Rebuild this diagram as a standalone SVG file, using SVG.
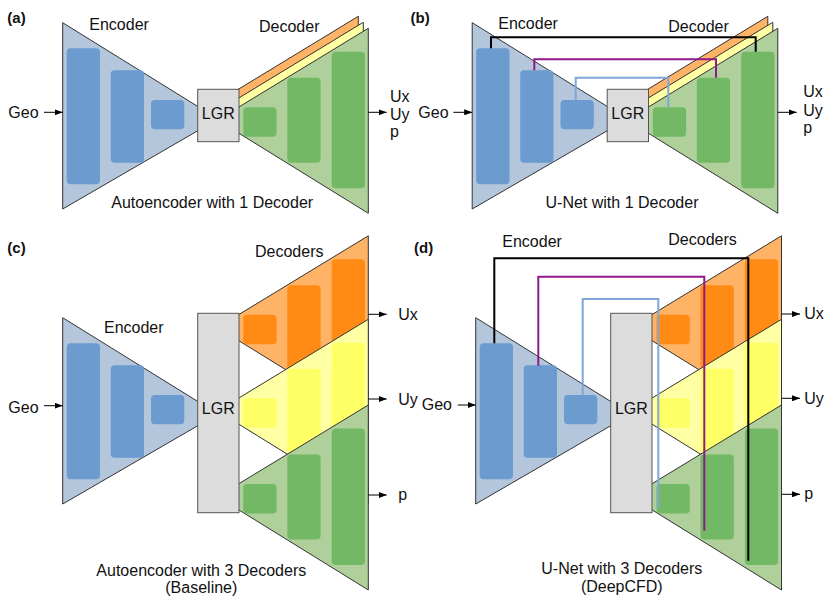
<svg xmlns="http://www.w3.org/2000/svg" width="830" height="598" viewBox="0 0 830 598">
<style>
text{font-family:"Liberation Sans",Arial,sans-serif;font-size:16px;fill:#111}
.lbl{font-weight:bold;font-size:15px}
.mid{text-anchor:middle}
.etri{fill:#b3c6dc;stroke:#333;stroke-width:1}
.eblk{fill:#6c9bcf}
.gtri{fill:#afd09a;stroke:#333;stroke-width:1}
.gblk{fill:#72b865}
.otri{fill:#ffb367;stroke:#333;stroke-width:1}
.oblk{fill:#ff8a14}
.ytri{fill:#ffffa3;stroke:#333;stroke-width:1}
.yblk{fill:#ffff66}
.lgr{fill:#dcdcdc;stroke:#555;stroke-width:1}
.arr{stroke:#000;stroke-width:1;fill:none;marker-end:url(#ah)}
.sk{fill:none;stroke-width:2}
.k{stroke:#000}
.pu{stroke:#8e1a8e}
.bl{stroke:#7ea8da}
</style>
<defs>
<marker id="ah" viewBox="0 0 8 6" refX="8" refY="3" markerWidth="8" markerHeight="6" markerUnits="userSpaceOnUse" orient="auto">
<path d="M0,0 L8,3 L0,6 Z" fill="#000"/>
</marker>
</defs>

<!-- Panel (a) -->
<g id="panel-a">
<text class="lbl" x="7.3" y="23.3">(a)</text>
<g id="a-encoder">
<polygon class="etri" points="62.7,22.7 62.7,209 218,119"/>
<rect class="eblk" x="66.7" y="48.3" width="33.3" height="136" rx="4"/>
<rect class="eblk" x="110.7" y="70.3" width="33.3" height="92.4" rx="4"/>
<rect class="eblk" x="151" y="100" width="33.3" height="29.3" rx="4"/>
</g>
<g id="a-decoder">
<polygon class="otri" transform="translate(-10,-12)" points="217.5,120 368.3,28.3 368.3,213.3"/>
<polygon class="ytri" transform="translate(-5,-6)" points="217.5,120 368.3,28.3 368.3,213.3"/>
<polygon class="gtri" points="217.5,120 368.3,28.3 368.3,213.3"/>
<rect class="gblk" x="243.3" y="107.3" width="33.3" height="29.4" rx="4"/>
<rect class="gblk" x="287.3" y="77.7" width="33.3" height="85" rx="4"/>
<rect class="gblk" x="331.7" y="51.7" width="33.3" height="136.6" rx="4"/>
</g>
<g id="a-lgr">
<rect class="lgr" x="197.7" y="89.3" width="41.3" height="52.4"/>
<text class="mid" x="218.3" y="119.3">LGR</text>
</g>
<text x="89.3" y="30">Encoder</text>
<text x="259" y="32.3">Decoder</text>
<text x="8.3" y="117.5">Geo</text>
<text x="390" y="101.7">Ux</text>
<text x="390" y="119.5">Uy</text>
<text x="390" y="137">p</text>
<text class="mid" x="212.2" y="208">Autoencoder with 1 Decoder</text>
</g>

<!-- Panel (b) -->
<g id="panel-b">
<text class="lbl" x="410.5" y="23.3">(b)</text>
<g id="b-encoder" transform="translate(409.5,0)">
<polygon class="etri" points="62.7,22.7 62.7,209 218,119"/>
<rect class="eblk" x="66.7" y="48.3" width="33.3" height="136" rx="4"/>
<rect class="eblk" x="110.7" y="70.3" width="33.3" height="92.4" rx="4"/>
<rect class="eblk" x="151" y="100" width="33.3" height="29.3" rx="4"/>
</g>
<g id="b-decoder" transform="translate(409.5,0)">
<polygon class="otri" transform="translate(-10,-12)" points="217.5,120 368.3,28.3 368.3,213.3"/>
<polygon class="ytri" transform="translate(-5,-6)" points="217.5,120 368.3,28.3 368.3,213.3"/>
<polygon class="gtri" points="217.5,120 368.3,28.3 368.3,213.3"/>
<rect class="gblk" x="243.3" y="107.3" width="33.3" height="29.4" rx="4"/>
<rect class="gblk" x="287.3" y="77.7" width="33.3" height="85" rx="4"/>
<rect class="gblk" x="331.7" y="51.7" width="33.3" height="136.6" rx="4"/>
</g>
<g id="b-lgr" transform="translate(409.5,0)">
<rect class="lgr" x="197.7" y="89.3" width="41.3" height="52.4"/>
<text class="mid" x="218.3" y="119.3">LGR</text>
</g>
<text x="498.3" y="29.3">Encoder</text>
<text x="668.3" y="31.7">Decoder</text>
<text x="418.3" y="117.5">Geo</text>
<text x="803.3" y="97.3">Ux</text>
<text x="803.3" y="115.5">Uy</text>
<text x="803.3" y="133">p</text>
<text class="mid" x="622" y="208.3">U-Net with 1 Decoder</text>
</g>

<!-- Panel (c) -->
<g id="panel-c">
<text class="lbl" x="7.3" y="253.3">(c)</text>
<g id="c-encoder" transform="translate(0,295)">
<polygon class="etri" points="62.7,22.7 62.7,209 218,119"/>
<rect class="eblk" x="66.7" y="48.3" width="33.3" height="136" rx="4"/>
<rect class="eblk" x="110.7" y="70.3" width="33.3" height="92.4" rx="4"/>
<rect class="eblk" x="151" y="100" width="33.3" height="29.3" rx="4"/>
</g>
<g id="c-decoder-ux" transform="translate(0,207.5)">
<polygon class="otri" points="217.5,120 368.3,28.3 368.3,213.3"/>
<rect class="oblk" x="243.3" y="107.3" width="33.3" height="29.4" rx="4"/>
<rect class="oblk" x="287.3" y="77.7" width="33.3" height="85" rx="4"/>
<rect class="oblk" x="331.7" y="51.7" width="33.3" height="136.6" rx="4"/>
</g>
<g id="c-decoder-uy" transform="translate(0,291)">
<polygon class="ytri" points="217.5,120 368.3,28.3 368.3,213.3"/>
<rect class="yblk" x="243.3" y="107.3" width="33.3" height="29.4" rx="4"/>
<rect class="yblk" x="287.3" y="77.7" width="33.3" height="85" rx="4"/>
<rect class="yblk" x="331.7" y="51.7" width="33.3" height="136.6" rx="4"/>
</g>
<g id="c-decoder-p" transform="translate(0,376.7)">
<polygon class="gtri" points="217.5,120 368.3,28.3 368.3,213.3"/>
<rect class="gblk" x="243.3" y="107.3" width="33.3" height="29.4" rx="4"/>
<rect class="gblk" x="287.3" y="77.7" width="33.3" height="85" rx="4"/>
<rect class="gblk" x="331.7" y="51.7" width="33.3" height="136.6" rx="4"/>
</g>
<g id="c-lgr">
<rect class="lgr" x="197.7" y="313.3" width="41.3" height="199.4"/>
<text class="mid" x="218.3" y="414.3">LGR</text>
</g>
<text x="104" y="333.3">Encoder</text>
<text x="255" y="256.7">Decoders</text>
<text x="8.3" y="412.7">Geo</text>
<text x="398.3" y="320">Ux</text>
<text x="398.3" y="405">Uy</text>
<text x="398.3" y="500">p</text>
<text class="mid" x="201.3" y="576">Autoencoder with 3 Decoders</text>
<text class="mid" x="201.3" y="593.3">(Baseline)</text>
</g>

<!-- Panel (d) -->
<g id="panel-d">
<text class="lbl" x="414" y="253.3">(d)</text>
<g id="d-encoder" transform="translate(413,295)">
<polygon class="etri" points="62.7,22.7 62.7,209 218,119"/>
<rect class="eblk" x="66.7" y="48.3" width="33.3" height="136" rx="4"/>
<rect class="eblk" x="110.7" y="70.3" width="33.3" height="92.4" rx="4"/>
<rect class="eblk" x="151" y="100" width="33.3" height="29.3" rx="4"/>
</g>
<g id="d-decoder-ux" transform="translate(413.2,207.5)">
<polygon class="otri" points="217.5,120 368.3,28.3 368.3,213.3"/>
<rect class="oblk" x="243.3" y="107.3" width="33.3" height="29.4" rx="4"/>
<rect class="oblk" x="287.3" y="77.7" width="33.3" height="85" rx="4"/>
<rect class="oblk" x="331.7" y="51.7" width="33.3" height="136.6" rx="4"/>
</g>
<g id="d-decoder-uy" transform="translate(413.2,291)">
<polygon class="ytri" points="217.5,120 368.3,28.3 368.3,213.3"/>
<rect class="yblk" x="243.3" y="107.3" width="33.3" height="29.4" rx="4"/>
<rect class="yblk" x="287.3" y="77.7" width="33.3" height="85" rx="4"/>
<rect class="yblk" x="331.7" y="51.7" width="33.3" height="136.6" rx="4"/>
</g>
<g id="d-decoder-p" transform="translate(413.2,376.7)">
<polygon class="gtri" points="217.5,120 368.3,28.3 368.3,213.3"/>
<rect class="gblk" x="243.3" y="107.3" width="33.3" height="29.4" rx="4"/>
<rect class="gblk" x="287.3" y="77.7" width="33.3" height="85" rx="4"/>
<rect class="gblk" x="331.7" y="51.7" width="33.3" height="136.6" rx="4"/>
</g>
<g id="d-lgr">
<rect class="lgr" x="610.7" y="313.3" width="41.3" height="199.4"/>
<text class="mid" x="631.4" y="414.3">LGR</text>
</g>
<text x="502.3" y="246.7">Encoder</text>
<text x="668.3" y="245">Decoders</text>
<text x="421.7" y="410">Geo</text>
<text x="804.3" y="319.3">Ux</text>
<text x="804.3" y="404.3">Uy</text>
<text x="804.3" y="499">p</text>
<text class="mid" x="621.8" y="574">U-Net with 3 Decoders</text>
<text class="mid" x="621.8" y="591.7">(DeepCFD)</text>
</g>

<!-- Connectors -->
<g id="connectors">
<line class="arr" x1="44" y1="112.3" x2="62.7" y2="112.3"/>
<line class="arr" x1="368.3" y1="112.3" x2="386.7" y2="112.3"/>
<line class="arr" x1="453.3" y1="112.3" x2="472.2" y2="112.3"/>
<line class="arr" x1="777.8" y1="112.3" x2="796.7" y2="112.3"/>
<line class="arr" x1="44" y1="405.7" x2="62.7" y2="405.7"/>
<line class="arr" x1="368.3" y1="314.3" x2="386.7" y2="314.3"/>
<line class="arr" x1="368.3" y1="399" x2="386.7" y2="399"/>
<line class="arr" x1="368.3" y1="495" x2="386.7" y2="495"/>
<line class="arr" x1="457.7" y1="405" x2="475.7" y2="405"/>
<line class="arr" x1="781.5" y1="314" x2="800" y2="314"/>
<line class="arr" x1="781.5" y1="398.3" x2="800" y2="398.3"/>
<line class="arr" x1="781.5" y1="494.3" x2="800" y2="494.3"/>
<path class="sk k" d="M491,48.3 V37.3 H755.7 V51.7"/>
<path class="sk pu" d="M534.3,70.3 V59.3 H716 V77.7"/>
<path class="sk bl" d="M575.7,100 V77.7 H668.3 V107.3"/>
<path class="sk k" d="M494.3,343.3 V258.3 H748.3 V560.7"/>
<path class="sk pu" d="M538.3,365.7 V276.7 H704.3 V530.7"/>
<path class="sk bl" d="M582.7,395 V299 H658.3 V508.3"/>
</g>
</svg>
